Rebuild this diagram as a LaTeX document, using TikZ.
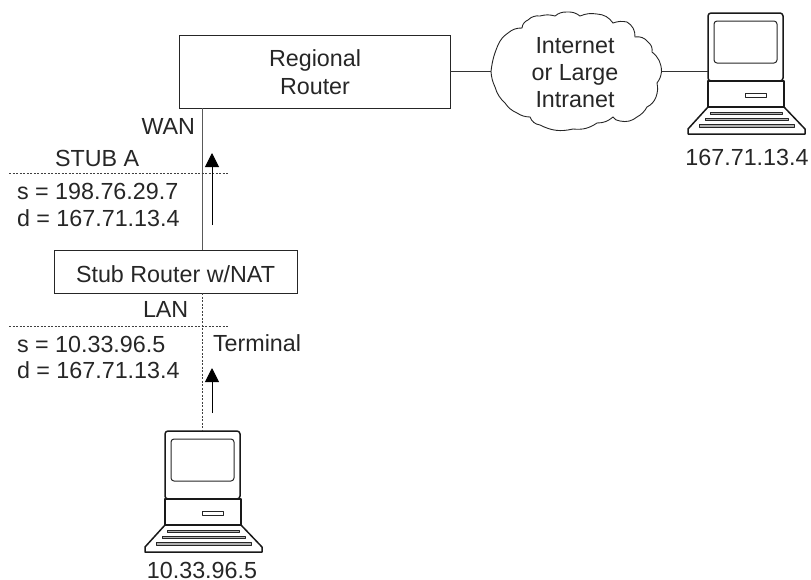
\documentclass[tikz,border=0pt]{standalone}
\usepackage{fontspec}
\setmainfont{Liberation Sans}
\usetikzlibrary{arrows.meta}
\tikzset{
  lbl/.style={inner sep=0pt,outer sep=0pt,text=black!85,font=\fontsize{23.3}{28}\selectfont},
  boxn/.style={draw=black!85,line width=1pt,inner sep=0pt,outer sep=0pt},
  wire/.style={draw=black!80,line width=1pt},
  dotwire/.style={draw=black!75,line width=1pt,dash pattern=on 2pt off 1.5pt},
  flow/.style={draw=black,line width=1pt,-{Triangle[width=14pt,length=14pt]}},
  pcline/.style={draw=black!90,line width=1.5pt,line join=round},
  pcthin/.style={draw=black!85,line width=1pt,line join=round}
}
\newcommand{\pcdraw}[3]{%
  \begin{scope}[shift={(#2,#3)}]
    \node[pcline,rounded corners=3pt,inner sep=0pt,outer sep=0pt,minimum width=75pt,minimum height=68pt,anchor=north west] (#1) at (0,0) {};
    \draw[pcthin,rounded corners=3pt] (6,8) rectangle (69,50);
    \draw[pcline] (0,68) rectangle (76,94);
    \draw[pcthin] (37,80) rectangle (58,84);
    \draw[pcline] (0,94) -- (76,94) -- (97,116) -- (97,121) -- (-20,121) -- (-20,116) -- cycle;
    \draw[pcthin,fill=black!30] (2,99) rectangle (74,101.5);
    \draw[pcthin,fill=black!30] (-3,105) rectangle (80,107.5);
    \draw[pcthin,fill=black!30] (-9,111.5) rectangle (86,114);
  \end{scope}}
\begin{document}
\begin{tikzpicture}[x=1pt,y=-1pt]
\useasboundingbox (0,0) rectangle (811,579);
\node[boxn,minimum width=271pt,minimum height=73pt,anchor=north west] (regional) at (179,35) {};
\node[boxn,minimum width=243pt,minimum height=43pt,anchor=north west] (stub) at (54,250) {};
\pcdraw{pcA}{708}{13}
\pcdraw{pcB}{165}{431}
% cloud
\coordinate (cloudW) at (491,71.5);
\coordinate (cloudE) at (661.5,71.5);
\draw[draw=black!85,line width=.9pt]
  (cloudW) to[bend left=8] (498,45) to[bend left=15] (508,33) to[bend left=20] (522,28)
  to[bend left=30] (528,20) to[bend left=25] (540,16) to[bend left=15] (555,16)
  to[bend left=20] (567,12) to[bend left=20] (580,16) to[bend left=15] (597,14)
  to[bend left=25] (613,23) to[bend left=15] (627,22) to[bend left=30] (635,37)
  to[bend left=30] (648,42) to[bend left=30] (652,52) to[bend left=25] (cloudE)
  to[bend left=15] (657,83) to[bend left=15] (656,97) to[bend left=20] (647,107)
  to[bend left=15] (637,117) to[bend left=25] (620,121) to[bend left=25] (613,117)
  to[bend left=20] (597,123) to[bend left=20] (573,129) to[bend left=20] (540,125)
  to[bend left=30] (530,117) to[bend left=15] (517,113) to[bend left=15] (505,103)
  to[bend left=15] (495,87) to[bend left=10] (cloudW);
% connectors
\draw[wire] (regional.east) -- (cloudW);
\draw[wire] (cloudE) -- (pcA.west |- cloudE);
\draw[wire,draw=black!65] (regional.south -| pcB.north) -- (stub.north -| pcB.north);
\draw[dotwire] (stub.south -| pcB.north) -- (pcB.north);
\coordinate (sepAl) at (9,173); \coordinate (sepAr) at (229,173);
\coordinate (sepBl) at (9,326); \coordinate (sepBr) at (229,326);
\draw[dotwire] (sepAl) -- (sepAr);
\draw[dotwire] (sepBl) -- (sepBr);
\coordinate (arAs) at (212,225); \coordinate (arAe) at (212,153);
\coordinate (arBs) at (212,413); \coordinate (arBe) at (212,368);
\draw[flow] (arAs) -- (arAe);
\draw[flow] (arBs) -- (arBe);
% labels
\node[lbl,anchor=base] (t1) at (315,66) {Regional};
\node[lbl,anchor=base] (t2) at (315,94) {Router};
\node[lbl,anchor=base] (t3) at (575,53) {Internet};
\node[lbl,anchor=base] (t4) at (575,80) {or Large};
\node[lbl,anchor=base] (t5) at (575,107) {Intranet};
\node[lbl,anchor=base] (t6) at (747,165) {167.71.13.4};
\node[lbl,anchor=base east] (t7) at (195,134) {WAN};
\node[lbl,anchor=base west] (t8) at (55,166) {STUB A};
\node[lbl,anchor=base west] (t9) at (17,199) {s = 198.76.29.7};
\node[lbl,anchor=base west] (t10) at (17,226) {d = 167.71.13.4};
\node[lbl,anchor=base] (t11) at (stub.center |- 0,282) {Stub Router w/NAT};
\node[lbl,anchor=base west] (t12) at (143,317) {LAN};
\node[lbl,anchor=base west] (t13) at (17,352) {s = 10.33.96.5};
\node[lbl,anchor=base west] (t14) at (17,378) {d = 167.71.13.4};
\node[lbl,anchor=base west] (t15) at (213,351) {Terminal};
\node[lbl,anchor=base] (t16) at (202,578) {10.33.96.5};
\end{tikzpicture}
\end{document}
